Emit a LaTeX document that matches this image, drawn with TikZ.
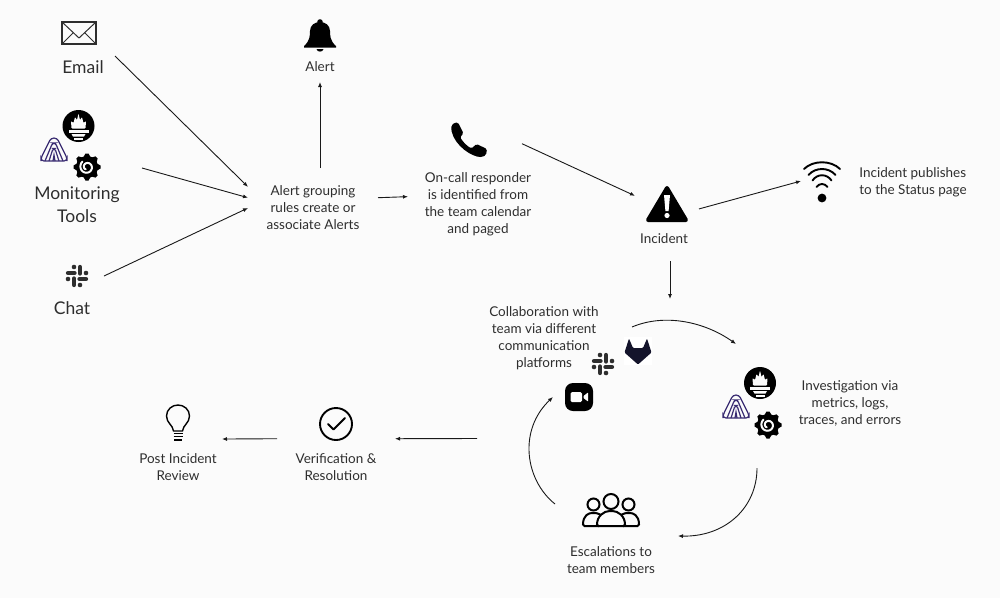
\documentclass[tikz,border=0pt]{standalone}
\usepackage{fontspec}
\setmainfont{Lato}
\usetikzlibrary{arrows.meta,positioning}
\definecolor{bgcol}{HTML}{FBFBFB}
\definecolor{inkcol}{HTML}{2E2E2E}
\definecolor{sumocol}{HTML}{3A2C72}
\definecolor{foxcol}{HTML}{14142B}
\tikzset{
  envelopeicon/.pic={
    \draw[inkcol,line width=1.2pt] (-17,-11) rectangle (17,11);
    \draw[inkcol,line width=1pt,line join=round] (-17,-11)--(0,5)--(17,-11);
    \draw[inkcol,line width=1pt] (-17,11)--(-6,0) (17,11)--(6,0);
  },
  promicon/.pic={
    \fill[black] (0,0) circle (16);
    \fill[bgcol,rounded corners=0.8pt] (-7,2.5)--(-7.5,-5)--(-5,-3)--(-3.5,-9)--(-1.5,-6)--(0,-12.5)--(1.5,-6)--(3.5,-9)--(5,-3)--(7.5,-5)--(7,2.5)--cycle;
    \fill[bgcol] (-10,3.5) rectangle (10,6.5);
    \fill[bgcol] (-7,8)--(7,8)--(5.5,10.5)--(-5.5,10.5)--cycle;
    \fill[bgcol] (-4.5,11.5) rectangle (4.5,13.5);
  },
  grafanaicon/.pic={
    \foreach \a in {0,45,...,315}{\fill[black,rotate=\a] (-3.5,-10)--(-1.5,-13.5)--(1.5,-13.5)--(3.5,-10)--cycle;}
    \fill[black] (0,0) circle (11);
    \draw[bgcol,line width=2pt,line cap=round] plot[smooth,domain=0:470,samples=30] ({(2.6+\x/105)*cos(\x+120)},{(2.6+\x/105)*sin(\x+120)});
  },
  sumoicon/.pic={
    \draw[sumocol,line width=1.2pt,rounded corners=3pt] (-13,11)--(-13,8)--(-3,-12)--(3,-12)--(13,8)--(13,11)--cycle;
    \draw[sumocol,line width=1.2pt,rounded corners=2.5pt] (-9,11)--(-1.5,-7)--(1.5,-7)--(9,11);
    \draw[sumocol,line width=1.2pt,rounded corners=2pt] (-5,11)--(-1,-1.5)--(1,-1.5)--(5,11);
    \draw[sumocol,line width=1.2pt] (-1,11)--(0,5)--(1,11);
  },
  slackicon/.pic={
    \foreach \a in {0,90,180,270}{
      \draw[inkcol,line width=4.3pt,line cap=round,rotate=\a] (-9,-3)--(-2.5,-3);
      \fill[inkcol,rotate=\a] (-3,-9) circle (2.3);}
  },
  bellicon/.pic={
    \fill[black] (0,-14) circle (2.8);
    \fill[black] (-16,10) .. controls (-10,5) and (-10,-1) .. (-10,-5) .. controls (-10,-11) and (-5,-14) .. (0,-14) .. controls (5,-14) and (10,-11) .. (10,-5) .. controls (10,-1) and (10,5) .. (16,10)--(16,11.5)--(-16,11.5)--cycle;
    \fill[black] (-3.5,13) .. controls (-3,16.5) and (3,16.5) .. (3.5,13)--cycle;
  },
  phoneicon/.pic={
    \fill[black,rounded corners=1.5pt] (-14,-17.5)--(-11,-17.5)--(-5.5,-6.5)--(-9,-3) .. controls (-6,2) and (-2,6) .. (2.5,8.5)--(7.5,4)--(18,9)--(17,15)--(13,17) .. controls (3,17) and (-14,6) .. (-17.7,-10)--(-17.7,-14.5)--cycle;
  },
  warnicon/.pic={
    \fill[black,draw=black,line width=4pt,line join=round] (0,-16)--(19,16)--(-19,16)--cycle;
    \fill[white] (-3,-9)--(3,-9)--(1.6,7)--(-1.6,7)--cycle;
    \fill[white] (0,11.5) circle (2.6);
  },
  wifiicon/.pic={
    \fill[black] (0,17) circle (4.4);
    \foreach \w/\e/\t in {18/-12/-21,13.5/-6/-14,9.5/-0.5/-7.5,5.5/6/2}{
      \draw[black,line width=1.9pt,line cap=round] (-\w,\e) .. controls (-\w/2,\t) and (\w/2,\t) .. (\w,\e);}
  },
  videoicon/.pic={
    \fill[black,rounded corners=8pt] (-14,-14) rectangle (14,14);
    \fill[white,rounded corners=1.5pt] (-8.5,-5) rectangle (3,5);
    \fill[white,rounded corners=0.5pt] (4.5,-1)--(9,-4.5)--(9,4.5)--(4.5,1)--cycle;
  },
  gitlabicon/.pic={
    \fill[white] (-14,-14) rectangle (14,14);
    \fill[foxcol,rounded corners=1pt] (-13.5,1.5)--(-9,-12.5)--(-5,-3)--(5,-3)--(9,-12.5)--(13.5,1.5)--(0,13.5)--cycle;
  },
  bulbicon/.pic={
    \draw[black,line width=1.4pt] (-4.5,8) .. controls (-5,2) and (-11.5,0) .. (-11.5,-7) .. controls (-11.5,-13.5) and (-6,-18) .. (0,-18) .. controls (6,-18) and (11.5,-13.5) .. (11.5,-7) .. controls (11.5,0) and (5,2) .. (4.5,8)--cycle;
    \draw[black,line width=1.6pt] (-4.5,10.5)--(4.5,10.5) (-4.5,13.5)--(4.5,13.5);
    \fill[black] (-4,15.5) rectangle (4,18);
  },
  checkicon/.pic={
    \draw[black,line width=1.9pt] (0,0) circle (16);
    \draw[black,line width=1.9pt,line cap=round,line join=round] (-8,0)--(-2.5,5.5)--(9,-6);
  },
  teamicon/.pic={
    \draw[black,line width=2pt,rounded corners=1.5pt] (-12,14)--(-28,14) .. controls (-28,3) and (-22,1) .. (-17.5,1) .. controls (-13,1) and (-9,3) .. (-7,7) (12,14)--(28,14) .. controls (28,3) and (22,1) .. (17.5,1) .. controls (13,1) and (9,3) .. (7,7);
    \draw[black,line width=2pt,fill=bgcol] (-17.5,-7.5) circle (6);
    \draw[black,line width=2pt,fill=bgcol] (17.5,-7.5) circle (6);
    \draw[black,line width=2pt,fill=bgcol] (0,-10.5) circle (7.5);
    \draw[black,line width=2pt,fill=bgcol,rounded corners=1.5pt] (-14,14) .. controls (-14,4) and (-7,-1) .. (0,-1) .. controls (7,-1) and (14,4) .. (14,14)--cycle;
  },
}
\begin{document}
\begin{tikzpicture}[x=1pt,y=-1pt,
    stage/.style={align=center,inner sep=0pt,outer sep=0pt,text=inkcol,font=\fontsize{13.5}{17}\selectfont},
    bigstage/.style={align=center,inner sep=0pt,outer sep=0pt,text=inkcol,font=\fontsize{17.5}{23}\selectfont},
    iconbox/.style={minimum size=#1,inner sep=0pt,outer sep=0pt},
    arr/.style={-{Latex[length=5pt,width=4pt]},black!90,line width=0.9pt}]
    \path[use as bounding box,fill=bgcol] (0,0) rectangle (1000,598);
    % sources
    \node[bigstage,minimum width=64pt,minimum height=22pt](email) at (83,67){Email};
    \node[bigstage](tools) at (77,205){Monitoring\\Tools};
    \node[bigstage](chat) at (72,308){Chat};
    \node[iconbox=54pt](chatico) at (77,276){};
    \node[iconbox=128pt](toolsico) at (78,168){};
    \pic at (79,33) {envelopeicon};
    \pic at (78.5,126) {promicon};
    \pic at (54,150) {sumoicon};
    \pic at (87,167) {grafanaicon};
    \pic at (chatico) {slackicon};
    % main line
    \node[stage,minimum width=130pt,minimum height=80pt](group) at (313,208){Alert grouping\\rules create or\\associate Alerts};
    \node[stage,minimum height=30pt](alert) at (320,67){Alert};
    \node[stage,minimum width=140pt](oncall) at (478,204){On-call responder\\is identified from\\the team calendar\\and paged};
    \node[iconbox=106pt](phoneico) at (469,140){};
    \node[iconbox=64pt](warnico) at (667,205){};
    \node[stage,minimum height=44pt](inclabel) at (664,239){Incident};
    \node[iconbox=44pt](wifiico) at (823,181){};
    \node[stage,align=left](status) at (913,182){Incident publishes\\to the Status page};
    \pic at (320,36) {bellicon};
    \pic at (phoneico) {phoneicon};
    \pic at (667,204) {warnicon};
    \pic at (822,181) {wifiicon};
    % response cycle
    \node[stage](collab) at (544,338){Collaboration with\\team via different\\communication\\platforms};
    \node[stage](invest) at (850,403){Investigation via\\metrics, logs,\\traces, and errors};
    \node[stage](escal) at (611,560){Escalations to\\team members};
    \node[stage](verify) at (336,467){Verification \&\\Resolution};
    \node[stage](review) at (178,467){Post Incident\\Review};
    \node[iconbox=118pt](checkico) at (336,424){};
    \node[iconbox=88pt](bulbico) at (178,423){};
    \pic at (638,351) {gitlabicon};
    \pic at (603,364) {slackicon};
    \pic at (579,397) {videoicon};
    \pic at (760,383) {promicon};
    \pic at (736,407) {sumoicon};
    \pic at (768,425) {grafanaicon};
    \pic at (611,512) {teamicon};
    \pic at (checkico) {checkicon};
    \pic at (bulbico) {bulbicon};
    \coordinate (cyclein) at (670,299);
    \coordinate (collabout) at (632,327);
    \coordinate (investin) at (736,344);
    \coordinate (investout) at (757,468);
    \coordinate (escalin) at (678,536);
    \coordinate (escalout) at (555,504);
    \coordinate (collabin) at (553,397);
    \coordinate (cycleout) at (477,438.5);
    \draw[arr](email.north east)--(group.162.1);
    \draw[arr](toolsico.east)--(group.171.25);
    \draw[arr](chatico.east)--(group.180);
    \draw[arr](group.north -| alert.south)--(alert.south);
    \draw[arr](group.9.6)--(oncall.174.3);
    \draw[arr](phoneico.-4)--(warnico.164);
    \draw[arr](warnico.-7)--(wifiico.west);
    \draw[arr](inclabel.south -| cyclein)--(cyclein);
    \draw[arr](collabout) .. controls (665,313) and (705,322) .. (investin);
    \draw[arr](investout) .. controls (757,508) and (725,537) .. (escalin);
    \draw[arr](escalout) .. controls (525,480) and (518,430) .. (collabin);
    \draw[arr](cycleout)--(checkico.-14.3);
    \draw[arr](checkico.194.3)--(bulbico.-20);
  \end{tikzpicture}
\end{document}
